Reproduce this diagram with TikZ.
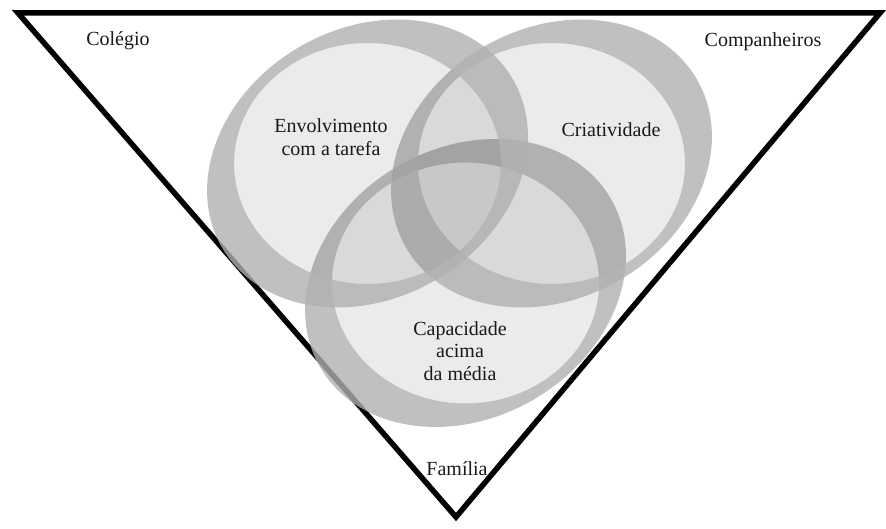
\documentclass[tikz,border=0pt]{standalone}
\usepackage{fontspec}
\setmainfont{Liberation Serif}
\begin{document}
\begin{tikzpicture}[x=1pt,y=-1pt,
  tri/.style={draw=black,line width=5.5pt,line join=miter},
  ringfill/.style={fill=black!31,fill opacity=0.8,even odd rule},
  corefill/.style={fill=black,fill opacity=0.08},
  lbl/.style={inner sep=0pt,text=black!90,font=\fontsize{20}{22.5}\selectfont,align=center}]
\useasboundingbox (0,0) rectangle (886,529);
% triangle
\coordinate (tl) at (18,13);
\coordinate (tr) at (880,13);
\coordinate (bt) at (456,517);
\draw[tri] (tl) -- (tr) -- (bt) -- cycle;
% circle centres
\coordinate (c1) at (367.5,163.5);
\coordinate (c2) at (551.5,163.5);
\coordinate (c3) at (465.5,283);
\foreach \c in {c3,c2,c1}{
  \fill[ringfill] (\c) ellipse [x radius=168, y radius=135, rotate=30]
                  (\c) ellipse [x radius=133.5, y radius=120.5];
  \fill[corefill] (\c) ellipse [x radius=133.5, y radius=120.5];
}
% labels
\node[lbl,anchor=base] (colegio) at (118,46) {Colégio};
\node[lbl,anchor=base] (comp) at (763,47) {Companheiros};
\node[lbl] (env) at (331,137.2) {Envolvimento\\com a tarefa};
\node[lbl,anchor=base] (cri) at (611,137) {Criatividade};
\node[lbl] (cap) at (460,350.7) {Capacidade\\acima\\da média};
\node[lbl,anchor=base] (fam) at (457,475) {Família};
\end{tikzpicture}
\end{document}
